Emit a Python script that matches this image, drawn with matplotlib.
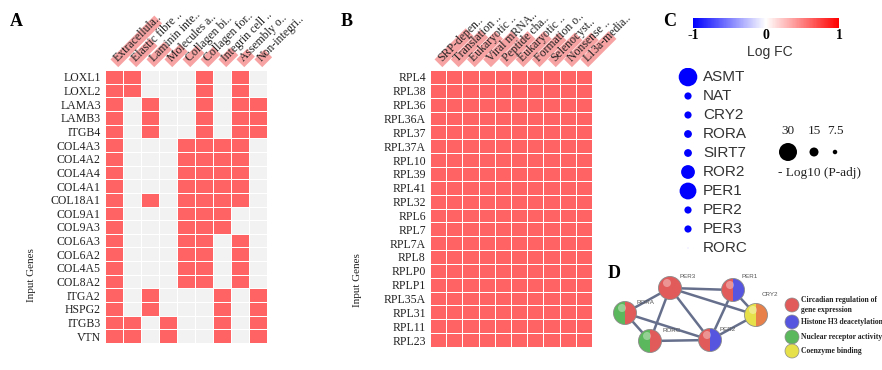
import numpy as np
import matplotlib
matplotlib.use("Agg")
import matplotlib.pyplot as plt
import matplotlib.transforms as mtransforms
import matplotlib.colorbar as mcolorbar
from matplotlib.colors import ListedColormap, LinearSegmentedColormap, Normalize
from matplotlib.patches import Rectangle, Wedge, Circle

W, H = 882, 370
SERIF = "Liberation Serif"
SANS = "Liberation Sans"
RED = "#ff6363"
GREY = "#f2f2f2"
PINK = "#f7a3a3"

# ---- panel A data ----
genes_a = ["LOXL1", "LOXL2", "LAMA3", "LAMB3", "ITGB4", "COL4A3", "COL4A2", "COL4A4",
           "COL4A1", "COL18A1", "COL9A1", "COL9A3", "COL6A3", "COL6A2", "COL4A5",
           "COL8A2", "ITGA2", "HSPG2", "ITGB3", "VTN"]
terms_a = ["Extracellula..", "Elastic fibre ..", "Laminin inte..", "Molecules a..",
           "Collagen bi..", "Collagen for..", "Integrin cell ..", "Assembly o..",
           "Non-integri.."]
hits_a = [[0, 1, 5, 7], [0, 1, 5, 7], [0, 2, 5, 7, 8], [0, 2, 5, 7, 8], [0, 2, 5, 7, 8],
          [0, 4, 5, 6, 7], [0, 4, 5, 6, 7], [0, 4, 5, 6, 7], [0, 4, 5, 6, 7],
          [0, 2, 4, 5, 6, 7], [0, 4, 5, 6], [0, 4, 5, 6], [0, 4, 5, 7], [0, 4, 5, 7],
          [0, 4, 5, 7], [0, 4, 5, 7], [0, 2, 6, 8], [0, 2, 6, 8], [0, 1, 3, 6, 8],
          [0, 1, 3, 6, 8]]
score_a = [62, 30, 25, 22, 20, 18, 17, 15, 14]

# ---- panel B data ----
genes_b = ["RPL4", "RPL38", "RPL36", "RPL36A", "RPL37", "RPL37A", "RPL10", "RPL39",
           "RPL41", "RPL32", "RPL6", "RPL7", "RPL7A", "RPL8", "RPLP0", "RPLP1",
           "RPL35A", "RPL31", "RPL11", "RPL23"]
terms_b = ["SRP-depen..", "Translation ..", "Eukaryotic ..", "Viral mRNA..",
           "Peptide cha..", "Eukaryotic ..", "Formation o..", "Selenocyst..",
           "Nonsense ..", "L13a-media.."]
score_b = [44, 42, 40, 40, 40, 40, 38, 38, 38, 40]

# ---- panel C data ----
genes_c = ["ASMT", "NAT", "CRY2", "RORA", "SIRT7", "ROR2", "PER1", "PER2", "PER3", "RORC"]
logfc_c = [-1, -1, -1, -1, -1, -1, -1, -1, -1, -0.06]
padj_c = [31, 12, 12, 13, 13, 23, 28, 12, 12, 3]
size_legend = [30, 15, 7.5]

# ---- panel D data ----
nodes_d = ["PER3", "PER1", "CRY2", "RORA", "RORC", "PER2"]
layout_d = {"PER3": (670, 288), "PER1": (733, 290), "CRY2": (756, 315),
            "RORA": (625, 313), "RORC": (650, 341), "PER2": (710, 340)}
node_cols = {"PER3": ["#e25b5b"], "PER1": ["#e25b5b", "#5555e0"],
             "CRY2": ["#e6e04a", "#e8804a"], "RORA": ["#5cb85c", "#e25b5b"],
             "RORC": ["#5cb85c", "#e25b5b"], "PER2": ["#e25b5b", "#5555e0"]}
edges_d = [("PER3", "PER1"), ("PER3", "CRY2"), ("PER3", "PER2"), ("PER3", "RORA"),
           ("PER3", "RORC"), ("PER1", "CRY2"), ("PER1", "PER2"), ("CRY2", "PER2"),
           ("RORA", "RORC"), ("RORA", "PER2"), ("RORC", "PER2")]
legend_d = [("Circadian regulation of\ngene expression", "#e25b5b"),
            ("Histone H3 deacetylation", "#5555e0"),
            ("Nuclear receptor activity", "#5cb85c"),
            ("Coenzyme binding", "#e6e04a")]

fig = plt.figure(figsize=(W / 100, H / 100), dpi=100)


def px_axes(x0, y0, x1, y1):
    return fig.add_axes([x0 / W, 1 - y1 / H, (x1 - x0) / W, (y1 - y0) / H])


def heatmap(ax, genes, terms, mat, scores):
    nr, nc = mat.shape
    ax.pcolormesh(np.arange(nc + 1), np.arange(nr + 1), mat,
                  cmap=ListedColormap([GREY, RED]), vmin=0, vmax=1,
                  edgecolors="white", linewidth=0.5)
    ax.set_xlim(0, nc)
    ax.set_ylim(nr, 0)
    ax.set_xticks([])
    ax.set_yticks(np.arange(nr) + 0.5)
    ax.set_yticklabels(genes, fontfamily=SERIF, fontsize=8.5, color="#222222")
    ax.tick_params(length=0, pad=3)
    for s in ax.spines.values():
        s.set_visible(False)
    for j, (t, sc) in enumerate(zip(terms, scores)):
        tr = mtransforms.Affine2D().rotate_deg(45) + \
            mtransforms.ScaledTranslation(j + 0.5, 0, ax.transData)
        ax.add_patch(Rectangle((5, -1), sc, 11, transform=tr, facecolor=PINK,
                               edgecolor="none", clip_on=False, zorder=1))
        pos = mtransforms.offset_copy(ax.transData, fig=fig, x=6, y=6, units="dots")
        ax.text(j + 0.5, 0, t, transform=pos, rotation=45, rotation_mode="anchor",
                ha="left", va="bottom", fontfamily=SERIF, fontsize=8.5,
                color="#222222", zorder=2)


# panel A
mat_a = np.zeros((len(genes_a), len(terms_a)))
for i, cols in enumerate(hits_a):
    mat_a[i, cols] = 1
ax_a = px_axes(105, 70, 267, 343)
heatmap(ax_a, genes_a, terms_a, mat_a, score_a)

# panel B
mat_b = np.ones((len(genes_b), len(terms_b)))
ax_b = px_axes(430, 70, 592, 347)
heatmap(ax_b, genes_b, terms_b, mat_b, score_b)

# overlay for free text
ov = fig.add_axes([0, 0, 1, 1])
ov.set_xlim(0, W)
ov.set_ylim(H, 0)
ov.axis("off")
for lab, x, y in [("A", 16, 22), ("B", 347, 22), ("C", 670, 22), ("D", 614, 273)]:
    ov.text(x, y, lab, fontfamily=SERIF, fontsize=13, fontweight="bold",
            ha="center", va="center")
ov.text(31, 275, "Input Genes", rotation=90, fontfamily=SERIF, fontsize=8,
        ha="center", va="center", color="#222222")
ov.text(358, 280, "Input Genes", rotation=90, fontfamily=SERIF, fontsize=8,
        ha="center", va="center", color="#222222")

# panel C colorbar
fc_cmap = LinearSegmentedColormap.from_list("fc", ["#0000ff", "#ffffff", "#ff0000"])
fc_norm = Normalize(-1, 1)
cax = px_axes(693, 18, 839, 28)
cb = mcolorbar.ColorbarBase(cax, cmap=fc_cmap, norm=fc_norm, orientation="horizontal",
                            ticks=[-1, 0, 1])
cb.outline.set_visible(False)
cax.tick_params(length=0, pad=1)
cax.set_xticklabels(["-1", "0", "1"], fontfamily=SERIF, fontsize=10, fontweight="bold")
ov.text(770, 52, "Log FC", fontfamily=SANS, fontsize=10, ha="center", va="center",
        color="#333333")


def dot_size(v):
    d_pt = 0.6 * np.asarray(v, dtype=float) * 72 / 100
    return d_pt ** 2


ax_c = px_axes(658, 67.5, 718, 257.5)
ax_c.set_xlim(-1, 1)
ax_c.set_ylim(len(genes_c) - 0.5, -0.5)
ax_c.axis("off")
ax_c.scatter(np.zeros(len(genes_c)), np.arange(len(genes_c)), s=dot_size(padj_c),
             c=logfc_c, cmap=fc_cmap, norm=fc_norm, edgecolors="none")
lab_tr = mtransforms.blended_transform_factory(ax_c.transAxes, ax_c.transData)
for i, g in enumerate(genes_c):
    ax_c.text(0.75, i, g, transform=lab_tr, fontfamily=SANS, fontsize=11,
              ha="left", va="center", color="#333333")

# size legend
leg_x = [788, 814, 835]
ov.scatter(leg_x, [152] * 3, s=dot_size(size_legend), color="black", edgecolors="none")
for x, v in zip(leg_x, size_legend):
    ov.text(x, 131, f"{v:g}", fontfamily=SERIF, fontsize=9.5, ha="center", va="center",
            color="#222222")
ov.text(819, 173, "- Log10 (P-adj)", fontfamily=SERIF, fontsize=9.5, ha="center",
        va="center", color="#222222")

# panel D network
ax_d = px_axes(600, 262, 882, 370)
ax_d.set_xlim(600, 882)
ax_d.set_ylim(370, 262)
ax_d.axis("off")
for a, b in edges_d:
    (x1, y1), (x2, y2) = layout_d[a], layout_d[b]
    ax_d.plot([x1, x2], [y1, y2], color="#66708c", lw=1.8, solid_capstyle="round",
              zorder=1)
r = 11.5
for n in nodes_d:
    cx, cy = layout_d[n]
    cols = node_cols[n]
    if len(cols) == 1:
        ax_d.add_patch(Circle((cx, cy), r, facecolor=cols[0], edgecolor="none", zorder=2))
    else:
        ax_d.add_patch(Wedge((cx, cy), r, 90, 270, facecolor=cols[0], edgecolor="none",
                             zorder=2))
        ax_d.add_patch(Wedge((cx, cy), r, -90, 90, facecolor=cols[1], edgecolor="none",
                             zorder=2))
    ax_d.add_patch(Circle((cx, cy), r, facecolor="none", edgecolor="#8a8a8a", lw=0.6,
                          zorder=3))
    ax_d.add_patch(Circle((cx - 3, cy - 5), 4, facecolor="white", alpha=0.35,
                          edgecolor="none", zorder=3))
node_lab = {"PER3": (688, 276), "PER1": (750, 276), "CRY2": (770, 294),
            "RORA": (645, 302), "RORC": (672, 330), "PER2": (728, 329)}
for n, (x, y) in node_lab.items():
    ax_d.text(x, y, n, fontfamily=SANS, fontsize=4.5, color="#555555",
              ha="center", va="center", zorder=4)

leg_y = [305, 322, 337, 351]
for (txt, col), y in zip(legend_d, leg_y):
    ax_d.add_patch(Circle((792, y), 7, facecolor=col, edgecolor="#8a8a8a", lw=0.5))
    ax_d.text(801, y, txt, fontfamily=SERIF, fontsize=5.5, fontweight="bold",
              ha="left", va="center", color="#222222", linespacing=1.3)

fig.savefig("out.png", dpi=100)
